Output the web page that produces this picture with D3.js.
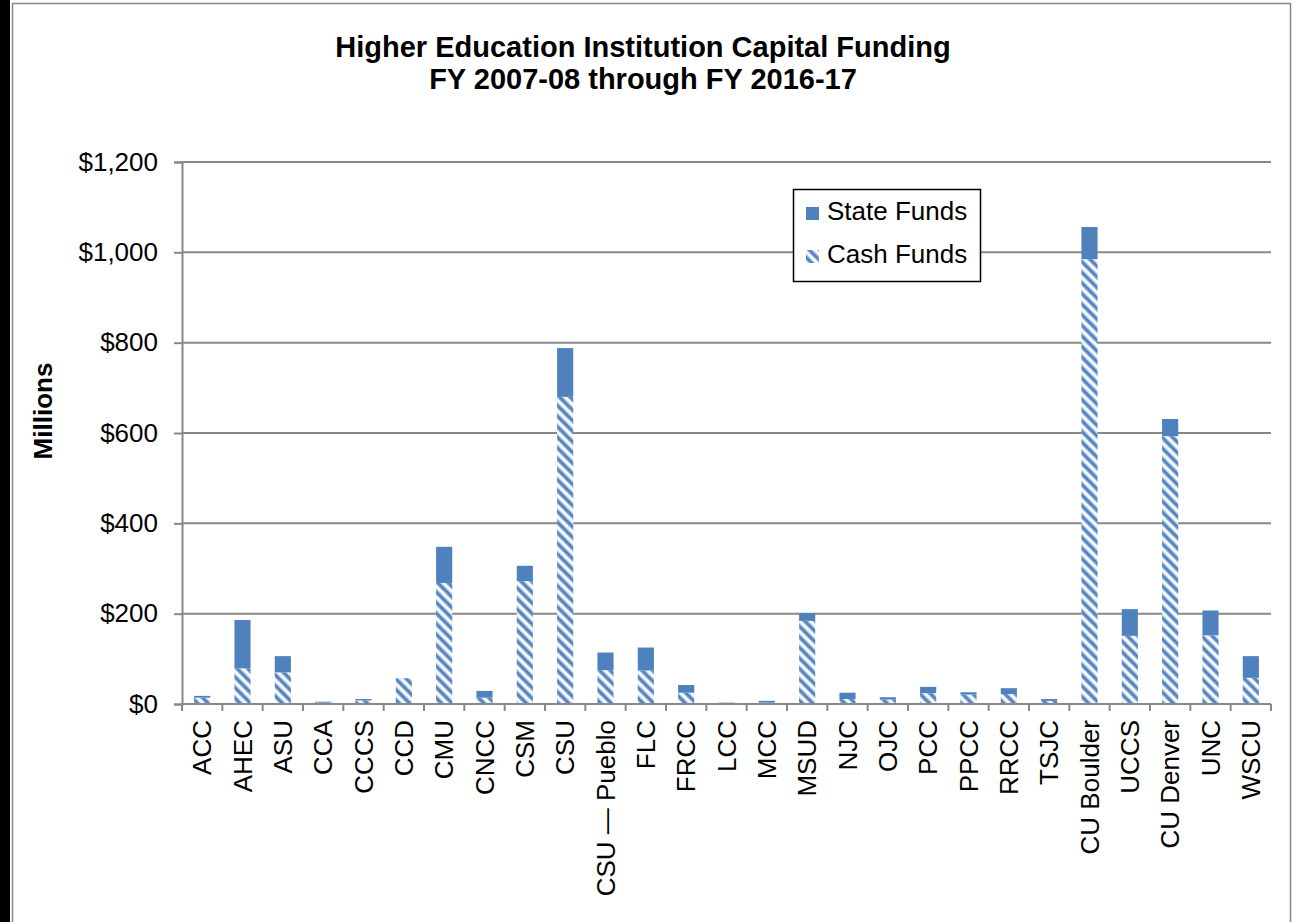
<!DOCTYPE html>
<html>
<head>
<meta charset="utf-8">
<title>Higher Education Institution Capital Funding</title>
<script src="https://cdn.jsdelivr.net/npm/d3@7/dist/d3.min.js"></script>
<style>
  html, body { margin: 0; padding: 0; background: #fff; }
  svg { display: block; font-family: "Liberation Sans", Arial, sans-serif; }
</style>
</head>
<body>
<div id="chart"></div>
<script>
// --- Data (millions of dollars) ---
const categories = ['ACC', 'AHEC', 'ASU', 'CCA', 'CCCS', 'CCD', 'CMU', 'CNCC', 'CSM', 'CSU',
  'CSU \u2014 Pueblo', 'FLC', 'FRCC', 'LCC', 'MCC', 'MSUD', 'NJC', 'OJC', 'PCC', 'PPCC',
  'RRCC', 'TSJC', 'CU Boulder', 'UCCS', 'CU Denver', 'UNC', 'WSCU'];
const cashFunds = [14, 79, 70, 3, 8, 57, 268, 14, 272, 680,
  75, 74, 25, 2, 3, 184, 11, 10, 24, 21,
  22, 7, 985, 151, 593, 152, 58];
const stateFunds = [4, 107, 36, 2, 3, 0, 80, 15, 34, 108,
  39, 51, 17, 1, 4, 17, 14, 5, 14, 5,
  13, 4, 71, 59, 38, 55, 48];
const yTicks = [0, 200, 400, 600, 800, 1000, 1200];
const seriesNames = ['State Funds', 'Cash Funds'];

const W = 1299, H = 922;
const blue = '#4F81BD';
const gridColor = '#888888';

const svg = d3.select('#chart').append('svg')
  .attr('width', W)
  .attr('height', H)
  .attr('viewBox', `0 0 ${W} ${H}`);

// --- Frame ---
svg.append('rect').attr('x', 0).attr('y', 0).attr('width', 10).attr('height', H).attr('fill', '#000');
svg.append('rect')
  .attr('x', 12.5).attr('y', 3.5)
  .attr('width', 1278).attr('height', H + 20)
  .attr('fill', '#fff')
  .attr('stroke', gridColor)
  .attr('stroke-width', 1.5);

// --- Hatch pattern for cash funds ---
const defs = svg.append('defs');
const pat = defs.append('pattern')
  .attr('id', 'hatch')
  .attr('patternUnits', 'userSpaceOnUse')
  .attr('width', 7.5).attr('height', 7.5)
  .attr('patternTransform', 'rotate(-45)');
pat.append('rect').attr('width', 7.5).attr('height', 7.5).attr('fill', '#fff');
pat.append('rect').attr('x', 0).attr('width', 1.1).attr('height', 7.5).attr('fill', '#a9c0df');
pat.append('rect').attr('x', 1.1).attr('width', 2.9).attr('height', 7.5).attr('fill', blue);
pat.append('rect').attr('x', 4).attr('width', 1.1).attr('height', 7.5).attr('fill', '#a9c0df');

// --- Scales ---
const x = d3.scaleBand()
  .domain(categories)
  .range([182, 1271])
  .paddingInner(0.6)
  .paddingOuter(0.3);

const y = d3.scaleLinear()
  .domain([0, 1200])
  .range([704, 162]);

// --- Gridlines ---
svg.append('g')
  .selectAll('line')
  .data(yTicks.slice(1))
  .enter()
  .append('line')
  .attr('x1', x.range()[0]).attr('x2', x.range()[1])
  .attr('y1', d => y(d)).attr('y2', d => y(d))
  .attr('stroke', gridColor)
  .attr('stroke-width', 2);

// --- Bars ---
const bars = svg.append('g');
bars.selectAll('.cash')
  .data(categories)
  .enter()
  .append('rect')
  .attr('class', 'cash')
  .attr('x', d => x(d))
  .attr('width', x.bandwidth())
  .attr('y', (d, i) => y(cashFunds[i]))
  .attr('height', (d, i) => y(0) - y(cashFunds[i]))
  .attr('fill', 'url(#hatch)');

bars.selectAll('.state')
  .data(categories)
  .enter()
  .append('rect')
  .attr('class', 'state')
  .attr('x', d => x(d))
  .attr('width', x.bandwidth())
  .attr('y', (d, i) => y(cashFunds[i] + stateFunds[i]))
  .attr('height', (d, i) => y(cashFunds[i]) - y(cashFunds[i] + stateFunds[i]))
  .attr('fill', blue);

// --- Y axis ---
const yAxis = svg.append('g')
  .attr('transform', `translate(${x.range()[0]},0)`)
  .call(d3.axisLeft(y)
    .tickValues(yTicks)
    .tickSize(8)
    .tickPadding(16)
    .tickFormat(d => '$' + d3.format(',')(d)));
yAxis.select('.domain').attr('stroke', gridColor).attr('stroke-width', 2);
yAxis.selectAll('.tick line').attr('stroke', gridColor).attr('stroke-width', 2);
yAxis.selectAll('.tick text')
  .attr('font-size', 26)
  .attr('fill', '#000')
  .attr('font-family', '"Liberation Sans", Arial, sans-serif');

// --- X axis ---
const x0 = x.range()[0];
svg.append('line')
  .attr('x1', x0).attr('x2', x.range()[1])
  .attr('y1', y(0)).attr('y2', y(0))
  .attr('stroke', gridColor).attr('stroke-width', 2);

svg.append('g')
  .selectAll('line')
  .data(d3.range(categories.length + 1))
  .enter()
  .append('line')
  .attr('x1', i => x0 + i * x.step())
  .attr('x2', i => x0 + i * x.step())
  .attr('y1', y(0)).attr('y2', y(0) + 7)
  .attr('stroke', gridColor).attr('stroke-width', 2);

svg.append('g')
  .selectAll('text')
  .data(categories)
  .enter()
  .append('text')
  .attr('transform', d => `translate(${x(d) + x.bandwidth() / 2},${y(0) + 16}) rotate(-90)`)
  .attr('text-anchor', 'end')
  .attr('dy', '0.35em')
  .attr('font-size', 26)
  .attr('fill', '#000')
  .text(d => d);

// --- Axis title ---
svg.append('text')
  .attr('transform', 'translate(52,411) rotate(-90)')
  .attr('text-anchor', 'middle')
  .attr('font-size', 26)
  .attr('font-weight', 'bold')
  .text('Millions');

// --- Chart title ---
svg.append('text')
  .attr('x', 643).attr('y', 57)
  .attr('text-anchor', 'middle')
  .attr('font-size', 29)
  .attr('font-weight', 'bold')
  .text('Higher Education Institution Capital Funding');
svg.append('text')
  .attr('x', 643).attr('y', 89)
  .attr('text-anchor', 'middle')
  .attr('font-size', 29)
  .attr('font-weight', 'bold')
  .text('FY 2007-08 through FY 2016-17');

// --- Legend ---
const legend = svg.append('g');
legend.append('rect')
  .attr('x', 793.5).attr('y', 189.5)
  .attr('width', 187).attr('height', 92)
  .attr('fill', '#fff')
  .attr('stroke', '#000')
  .attr('stroke-width', 1.5);

const legendItems = legend.selectAll('.item')
  .data(seriesNames)
  .enter()
  .append('g')
  .attr('class', 'item')
  .attr('transform', (d, i) => `translate(806,${207 + i * 43})`);

legendItems.append('rect')
  .attr('width', 13).attr('height', 13)
  .attr('fill', (d, i) => i === 0 ? blue : 'url(#hatch)');

legendItems.append('text')
  .attr('x', 21).attr('y', 13)
  .attr('font-size', 26)
  .attr('fill', '#000')
  .text(d => d);
</script>
</body>
</html>
